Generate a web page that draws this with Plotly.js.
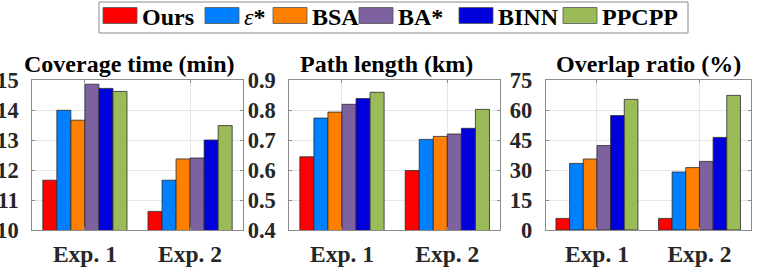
<!DOCTYPE html>
<html>
<head>
<meta charset="utf-8">
<script src="https://cdn.plot.ly/plotly-3.0.1.min.js"></script>
<style>
html,body{margin:0;padding:0;background:#fff;}
</style>
</head>
<body>
<div id="chart" style="width:757px;height:267px"></div>
<script>
// ---- data ----
const experiments = ["Exp. 1", "Exp. 2"];
const methods = ["Ours", "ε*", "BSA", "BA*", "BINN", "PPCPP"];
const legendLabels = ["<b>Ours</b>", "<i>ε</i><b>*</b>", "<b>BSA</b>", "<b>BA*</b>", "<b>BINN</b>", "<b>PPCPP</b>"];
const coverageOurs  = [11.66, 10.62];
const coverageEps   = [13.99, 11.66];
const coverageBSA   = [13.66, 12.37];
const coverageBA    = [14.86, 12.40];
const coverageBINN  = [14.72, 13.00];
const coveragePPCPP = [14.62, 13.48];
const pathOurs  = [0.644, 0.598];
const pathEps   = [0.773, 0.702];
const pathBSA   = [0.793, 0.712];
const pathBA    = [0.819, 0.720];
const pathBINN  = [0.838, 0.739];
const pathPPCPP = [0.859, 0.802];
const overlapOurs  = [5.8, 5.8];
const overlapEps   = [33.3, 29.0];
const overlapBSA   = [35.5, 31.2];
const overlapBA    = [42.2, 34.3];
const overlapBINN  = [57.2, 46.3];
const overlapPPCPP = [65.3, 67.3];
const panelTitles = ["Coverage time (min)", "Path length (km)", "Overlap ratio (%)"];

// ---- style ----
const colors = ["#ff0000", "#0080ff", "#ff8000", "#7e62a0", "#0000dd", "#9bbb59"];
const W = 757, H = 267;
const F = "Liberation Serif";
const panels = [
  {vals:[coverageOurs,coverageEps,coverageBSA,coverageBA,coverageBINN,coveragePPCPP], range:[10,15], dtick:1, fmt:"d", dom:[32.3,242.7], tshift:-8},
  {vals:[pathOurs,pathEps,pathBSA,pathBA,pathBINN,pathPPCPP], range:[0.4,0.9], dtick:0.1, fmt:".1f", dom:[289.3,500], tshift:-8},
  {vals:[overlapOurs,overlapEps,overlapBSA,overlapBA,overlapBINN,overlapPPCPP], range:[0,75], dtick:15, fmt:"d", dom:[545.7,750.7], tshift:0}
];
const plotTop = 80, plotBottom = 230;

const traces = [];
const layout = {
  width: W, height: H, margin:{l:0,r:0,t:0,b:0},
  paper_bgcolor:"#fff", plot_bgcolor:"#fff",
  barmode:"group", bargap:0.2, bargroupgap:0,
  showlegend:false,
  font:{family:F, size:22, weight:"bold"},
  shapes:[], annotations:[]
};

panels.forEach((p, i) => {
  const n = i === 0 ? "" : String(i+1);
  p.vals.forEach((v, k) => {
    traces.push({
      type:"bar", x:experiments, y:v, name:methods[k],
      xaxis:"x"+n, yaxis:"y"+n,
      marker:{color:colors[k], line:{color:"#2a2a2a", width:0.8}},
      hoverinfo:"skip"
    });
  });
  layout["xaxis"+n] = {
    domain:[p.dom[0]/W, p.dom[1]/W], anchor:"y"+n, type:"category",
    range:[-0.5,1.5], showgrid:true, gridcolor:"#e6e6e6", gridwidth:1,
    showline:true, linecolor:"#8c8c8c", linewidth:1, mirror:"ticks",
    ticks:"inside", ticklen:3, tickcolor:"#8c8c8c",
    tickfont:{family:F, size:23.5, weight:"bold", color:"#262626"}, ticklabelstandoff:3, fixedrange:true
  };
  layout["yaxis"+n] = {
    domain:[1-plotBottom/H, 1-plotTop/H], anchor:"x"+n,
    range:p.range, dtick:p.dtick, tick0:p.range[0], tickformat:p.fmt,
    showgrid:true, gridcolor:"#e6e6e6", gridwidth:1, zeroline:false,
    showline:true, linecolor:"#8c8c8c", linewidth:1, mirror:"ticks",
    ticks:"inside", ticklen:3, tickcolor:"#8c8c8c",
    tickfont:{family:F, size:22.5, weight:"bold", color:"#262626"}, ticklabelstandoff:8, fixedrange:true
  };
  layout.annotations.push({
    text:"<b>"+panelTitles[i]+"</b>", xref:"x"+n+" domain", yref:"paper",
    x:0.5, xshift:p.tshift, y:1-64/H, xanchor:"center", yanchor:"middle",
    showarrow:false, font:{family:F, size:24, color:"#000"}
  });
});

// ---- manual legend (wide swatches like the source figure) ----
const legBox = {x0:99, x1:688, y0:2, y1:33};
const swatchLeft = [103, 205, 273, 359, 459, 563];
const swW = 34, swH = 16, legMid = 15.5;
layout.shapes.push({type:"rect", xref:"paper", yref:"paper",
  x0:legBox.x0/W, x1:legBox.x1/W, y0:1-legBox.y1/H, y1:1-legBox.y0/H,
  line:{color:"#8c8c8c", width:1}, fillcolor:"#fff", layer:"above"});
methods.forEach((m, k) => {
  const sx = swatchLeft[k];
  layout.shapes.push({type:"rect", xref:"paper", yref:"paper",
    x0:sx/W, x1:(sx+swW)/W, y0:1-(legMid+swH/2)/H, y1:1-(legMid-swH/2)/H,
    line:{color:"#555", width:0.8}, fillcolor:colors[k], layer:"above"});
  layout.annotations.push({text:legendLabels[k], xref:"paper", yref:"paper",
    x:(sx+swW+3)/W, y:1-(legMid+1)/H, xanchor:"left", yanchor:"middle",
    showarrow:false, font:{family:F, size:24, color:"#000", weight:"normal"}});
});

Plotly.newPlot("chart", traces, layout, {staticPlot:true, displayModeBar:false});
</script>
</body>
</html>
